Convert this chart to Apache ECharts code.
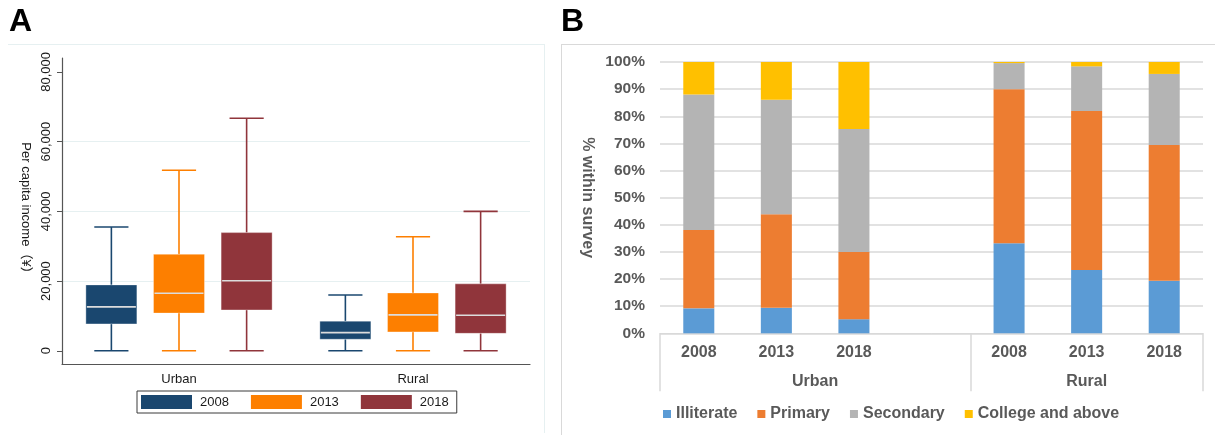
<!DOCTYPE html>
<html>
<head>
<meta charset="utf-8">
<script src="https://cdn.jsdelivr.net/npm/echarts@6/dist/echarts.min.js"></script>
<style>
  html, body { margin: 0; padding: 0; background: #fff; }
  #chart { width: 1215px; height: 435px; }
</style>
</head>
<body>
<div id="chart"></div>
<script>
// ---- Panel A: per capita income by area and survey year ----
const boxCategories = ['Urban', 'Rural'];
const boxYears = ['2008', '2013', '2018'];
// each row: [lower whisker, Q1, median, Q3, upper whisker] for Urban, Rural
const income2008 = [[0, 7700, 12600, 18900, 35500], [0, 3300, 5200, 8500, 16000]];
const income2013 = [[0, 10800, 16500, 27700, 51800], [0, 5400, 10300, 16600, 32700]];
const income2018 = [[0, 11700, 20100, 33900, 66700], [0, 5000, 10200, 19200, 40000]];
const incomeTicks = [0, 20000, 40000, 60000, 80000];

// ---- Panel B: education level, % within survey ----
const eduSlots = ['2008', '2013', '2018', '', '2008', '2013', '2018'];
const eduGroups = ['Urban', 'Rural'];
const eduGroupSpans = [4, 3];
const eduLevels = ['Illiterate', 'Primary', 'Secondary', 'College and above'];
const illiterate = [9.2, 9.4, 5.2, null, 33.2, 23.3, 19.4];
const primary = [28.9, 34.5, 24.8, null, 56.8, 58.6, 50.0];
const secondary = [49.9, 42.2, 45.3, null, 9.6, 16.5, 26.2];
const college = [12.0, 13.9, 24.7, null, 0.4, 1.6, 4.4];

const FONT = "'Liberation Sans', Arial, 'Noto Sans CJK SC', sans-serif";
const boxColors = ['#1a476f', '#fd7f00', '#90353b'];
const eduColors = ['#5b9bd5', '#ed7d31', '#b4b4b4', '#ffc000'];
const excelGray = '#595959';

// group label positions (centre of each group of slots)
const groupCenters = [];
(function () {
  let start = 0;
  eduGroupSpans.forEach(function (s) { groupCenters.push(start + s / 2); start += s; });
})();

// box-and-whisker renderer; k = position of the year within its area
function makeBoxRenderer(k, n) {
  return function (params, api) {
    const cat = api.value(0);
    const band = api.size([1, 0])[0];
    const cx = api.coord([cat, 0])[0] + (k - (n - 1) / 2) * band * 0.289;
    const bw = band * 0.218;
    const cw = band * 0.146;
    const y = function (v) { return api.coord([cat, v])[1]; };
    const lo = y(api.value(1)), q1 = y(api.value(2)), med = y(api.value(3)),
          q3 = y(api.value(4)), hi = y(api.value(5));
    const color = api.visual('color');
    const lineStyle = { stroke: color, lineWidth: 1.6 };
    return {
      type: 'group',
      children: [
        { type: 'line', shape: { x1: cx, y1: hi, x2: cx, y2: q3 }, style: lineStyle },
        { type: 'line', shape: { x1: cx, y1: q1, x2: cx, y2: lo }, style: lineStyle },
        { type: 'line', shape: { x1: cx - cw / 2, y1: hi, x2: cx + cw / 2, y2: hi }, style: lineStyle },
        { type: 'line', shape: { x1: cx - cw / 2, y1: lo, x2: cx + cw / 2, y2: lo }, style: lineStyle },
        { type: 'rect', shape: { x: cx - bw / 2, y: q3, width: bw, height: q1 - q3 },
          style: { fill: color, stroke: 'rgba(255,255,255,0.35)', lineWidth: 1 } },
        { type: 'line', shape: { x1: cx - bw / 2 + 1, y1: med, x2: cx + bw / 2 - 1, y2: med },
          style: { stroke: '#dcdcdc', lineWidth: 1.6 } }
      ]
    };
  };
}

const boxSets = [income2008, income2013, income2018];
const boxSeries = boxSets.map(function (rows, k) {
  return {
    name: boxYears[k],
    type: 'custom',
    xAxisIndex: 0,
    yAxisIndex: 0,
    itemStyle: { color: boxColors[k] },
    encode: { x: 0, y: [1, 2, 3, 4, 5] },
    renderItem: makeBoxRenderer(k, boxSets.length),
    data: rows.map(function (r, i) { return [i].concat(r); })
  };
});

const eduData = [illiterate, primary, secondary, college];
const eduSeries = eduData.map(function (vals, k) {
  return {
    name: eduLevels[k],
    type: 'bar',
    stack: 'edu',
    xAxisIndex: 1,
    yAxisIndex: 1,
    barWidth: '40%',
    itemStyle: { color: eduColors[k] },
    data: vals
  };
});

const chart = echarts.init(document.getElementById('chart'), null, { renderer: 'canvas' });

chart.setOption({
  animation: false,
  backgroundColor: '#ffffff',
  textStyle: { fontFamily: FONT },
  graphic: [
    // panel frames
    { type: 'line', shape: { x1: 8, y1: 44.5, x2: 544, y2: 44.5 }, style: { stroke: '#e6f0f1', lineWidth: 1 } },
    { type: 'line', shape: { x1: 544.5, y1: 44, x2: 544.5, y2: 433 }, style: { stroke: '#e6f0f1', lineWidth: 1 } },
    { type: 'line', shape: { x1: 561, y1: 44.5, x2: 1215, y2: 44.5 }, style: { stroke: '#d9d9d9', lineWidth: 1 } },
    { type: 'line', shape: { x1: 561.5, y1: 44, x2: 561.5, y2: 435 }, style: { stroke: '#d9d9d9', lineWidth: 1 } },
    // panel letters
    { type: 'text', left: 9, top: 6, style: { text: 'A', font: 'bold 32px ' + FONT, fill: '#000' } },
    { type: 'text', left: 561, top: 6, style: { text: 'B', font: 'bold 32px ' + FONT, fill: '#000' } }
  ],
  legend: [
    {
      data: boxYears,
      left: 137,
      top: 391,
      orient: 'horizontal',
      icon: 'rect',
      itemWidth: 51,
      itemHeight: 14,
      itemGap: 22,
      padding: [4, 8, 4, 4],
      borderColor: '#3a3a3a',
      borderWidth: 1,
      selectedMode: false,
      textStyle: { fontSize: 13, color: '#1a1a1a', fontFamily: FONT, padding: [0, 0, 0, 3] }
    },
    {
      data: eduLevels,
      left: 663,
      top: 406,
      icon: 'rect',
      itemWidth: 8,
      itemHeight: 8,
      itemGap: 20,
      padding: 0,
      selectedMode: false,
      textStyle: { fontSize: 16, fontWeight: 'bold', color: excelGray, fontFamily: FONT }
    }
  ],
  grid: [
    { left: 62, top: 58, width: 468, height: 306, containLabel: false },
    { left: 660, top: 62, width: 543, height: 271.3, containLabel: false }
  ],
  xAxis: [
    {
      type: 'category',
      gridIndex: 0,
      data: boxCategories,
      axisLine: { onZero: false, lineStyle: { color: '#555', width: 1.2 } },
      axisTick: { show: false },
      axisLabel: { fontSize: 13, color: '#1a1a1a', margin: 9, fontFamily: FONT },
      splitLine: { show: false }
    },
    {
      type: 'category',
      gridIndex: 1,
      data: eduSlots,
      axisLine: { lineStyle: { color: '#d9d9d9', width: 1 } },
      axisTick: {
        show: true,
        length: 58,
        lineStyle: { color: '#d9d9d9', width: 1.5 },
        interval: function (index) {
          let start = 0;
          for (let g = 0; g < eduGroupSpans.length; g++) {
            if (index === start) return true;
            start += eduGroupSpans[g];
          }
          return false;
        }
      },
      axisLabel: { fontSize: 16, fontWeight: 'bold', color: excelGray, margin: 11, interval: 0, fontFamily: FONT },
      splitLine: { show: false }
    },
    {
      // group names under the year labels
      type: 'value',
      gridIndex: 1,
      min: 0,
      max: eduSlots.length,
      interval: 0.5,
      position: 'bottom',
      axisLine: { show: false },
      axisTick: { show: false },
      splitLine: { show: false },
      axisLabel: {
        fontSize: 16, fontWeight: 'bold', color: excelGray, margin: 40, fontFamily: FONT,
        showMinLabel: true, showMaxLabel: true,
        formatter: function (v) {
          const i = groupCenters.indexOf(v);
          return i >= 0 ? eduGroups[i] : '';
        }
      }
    }
  ],
  yAxis: [
    {
      type: 'value',
      gridIndex: 0,
      min: -3800,
      max: 84000,
      name: 'Per capita income（¥）',
      nameLocation: 'middle',
      nameRotate: -90,
      nameGap: 30,
      nameTextStyle: { fontSize: 13, color: '#1a1a1a', fontFamily: FONT },
      axisLine: { show: true, lineStyle: { color: '#555', width: 1.2 } },
      axisTick: { show: true, length: 5, customValues: incomeTicks, lineStyle: { color: '#555' } },
      axisLabel: {
        customValues: incomeTicks,
        rotate: 90,
        fontSize: 13,
        color: '#1a1a1a',
        margin: 9,
        fontFamily: FONT,
        formatter: function (v) { return v.toLocaleString('en-US'); }
      },
      splitLine: {
        show: true,
        customValues: incomeTicks,
        showMinLine: false,
        showMaxLine: false,
        lineStyle: { color: '#e6f0f1', width: 1 }
      }
    },
    {
      type: 'value',
      gridIndex: 1,
      min: 0,
      max: 100,
      interval: 10,
      name: '% within survey',
      nameLocation: 'middle',
      nameRotate: -90,
      nameGap: 65,
      nameTextStyle: { fontSize: 16, fontWeight: 'bold', color: excelGray, fontFamily: FONT },
      axisLine: { show: false },
      axisTick: { show: false },
      axisLabel: {
        fontSize: 15.5, fontWeight: 'bold', color: excelGray, margin: 15, fontFamily: FONT,
        formatter: '{value}%'
      },
      splitLine: { show: true, lineStyle: { color: '#d9d9d9', width: 1.5 } }
    }
  ],
  series: boxSeries.concat(eduSeries)
});
</script>
</body>
</html>
